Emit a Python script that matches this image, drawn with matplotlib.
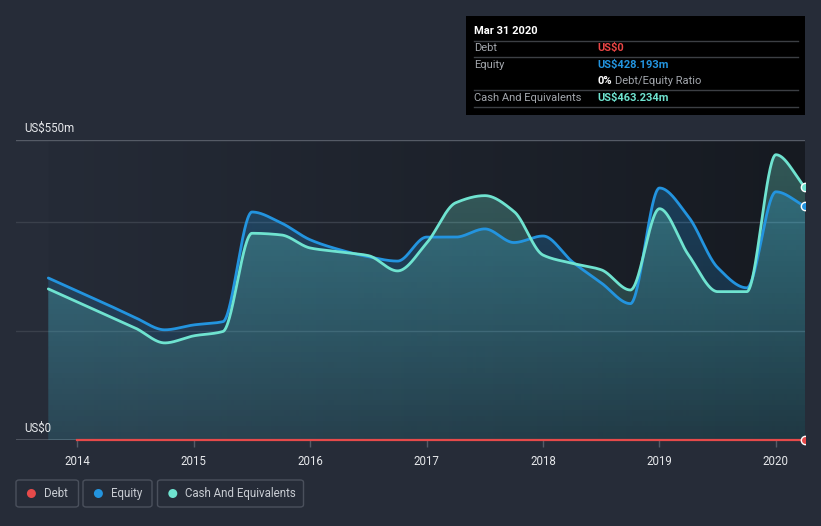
import numpy as np
import matplotlib
matplotlib.use("Agg")
import matplotlib.pyplot as plt
from matplotlib.patches import FancyBboxPatch, Ellipse, Rectangle, Polygon
from matplotlib.lines import Line2D

plt.rcParams['font.family'] = ['Roboto', 'DejaVu Sans']

# ---------------- data (US$ m, quarterly) ----------------
quarters = [2013.75 + 0.25 * i for i in range(27)]
equity = [297, 273, 249, 224, 202, 211, 217, 418, 398, 367, 349, 336, 328,
          372, 372, 387, 362, 374, 327, 288, 250, 462, 409, 316, 279, 455, 428.193]
cash = [277, 253, 229, 205, 178, 191, 199, 379, 376, 352, 345, 338, 310,
        361, 435, 448, 419, 339, 324, 312, 275, 424, 339, 272, 272, 523, 463.234]
debt_x = quarters[1:]
debt = [0] * len(debt_x)
year_ticks = [2014, 2015, 2016, 2017, 2018, 2019, 2020]
y_max = 550

W, H = 821, 526
BG = '#262c38'
BLUE = '#2394df'
TEAL = '#6fe3d0'
RED = '#e64a4a'

def pchip(x, y, xs):
    x = np.asarray(x, float); y = np.asarray(y, float)
    h = np.diff(x); d = np.diff(y) / h
    m = np.zeros_like(y)
    for k in range(1, len(y) - 1):
        if d[k - 1] * d[k] > 0:
            w1 = 2 * h[k] + h[k - 1]; w2 = h[k] + 2 * h[k - 1]
            m[k] = (w1 + w2) / (w1 / d[k - 1] + w2 / d[k])
    m[0] = d[0]; m[-1] = d[-1]
    idx = np.clip(np.searchsorted(x, xs) - 1, 0, len(x) - 2)
    t = (xs - x[idx]) / h[idx]
    h00 = 2 * t**3 - 3 * t**2 + 1; h10 = t**3 - 2 * t**2 + t
    h01 = -2 * t**3 + 3 * t**2; h11 = t**3 - t**2
    return h00 * y[idx] + h10 * h[idx] * m[idx] + h01 * y[idx + 1] + h11 * h[idx] * m[idx + 1]

fig = plt.figure(figsize=(W / 100, H / 100), dpi=100)
fig.patch.set_facecolor(BG)

def fx(px): return px / W
def fy(py): return 1 - py / H

x0p, x1p, y0p, y1p = 16, 805, 440, 140
ax = fig.add_axes([fx(x0p), fy(y0p), (x1p - x0p) / W, (y0p - y1p) / H])
xl = (2014 - (77.5 - 16) / 116.6, quarters[-1])
ax.set_xlim(*xl)
ax.set_ylim(0, y_max)
ax.set_facecolor(BG)
for s in ax.spines.values():
    s.set_visible(False)

# plot-area background gradient (from data start)
grad = np.linspace(0, 1, 256)[None, :]
c0 = np.array([37, 43, 55]) / 255; c1 = np.array([22, 26, 33]) / 255
img = c0[None, None, :] * (1 - grad[..., None]) + c1[None, None, :] * grad[..., None]
ax.imshow(img, extent=[quarters[0], quarters[-1], 0, y_max], aspect='auto', zorder=0)

# gridlines
for v in [200, 400]:
    ax.axhline(v, color='#3a404b', lw=1, zorder=1)
ax.axhline(y_max, color='#555b66', lw=1, zorder=1)
ax.axhline(0, color='#555b66', lw=1.2, zorder=1)

xs = np.linspace(quarters[0], quarters[-1], 1500)
ys_e = pchip(quarters, equity, xs)
ys_c = pchip(quarters, cash, xs)

def grad_fill(ys, color, z):
    rgb = np.array(matplotlib.colors.to_rgb(color))
    yy = np.linspace(y_max, 0, 300)
    alpha = 0.10 + 0.16 * yy / 400
    arr = np.zeros((300, 1, 4))
    arr[:, 0, :3] = rgb
    arr[:, 0, 3] = np.clip(alpha, 0, 1)
    im = ax.imshow(arr, extent=[quarters[0], quarters[-1], 0, y_max], aspect='auto',
                   zorder=z, interpolation='bilinear')
    verts = np.column_stack([np.r_[xs, xs[-1], xs[0]], np.r_[ys, 0, 0]])
    poly = Polygon(verts, closed=True, transform=ax.transData, facecolor='none', edgecolor='none')
    ax.add_patch(poly)
    im.set_clip_path(poly)

grad_fill(ys_e, BLUE, 2)
grad_fill(ys_c, TEAL, 3)

ax.plot(xs, ys_e, color=BLUE, lw=2.0, zorder=5, solid_capstyle='round')
ax.plot(xs, ys_c, color=TEAL, lw=2.0, zorder=6, solid_capstyle='round')

clip_rect = Rectangle((0, -0.05), 1, 1.1, transform=ax.transAxes, facecolor='none', edgecolor='none')
ax.add_patch(clip_rect)
dl, = ax.plot(debt_x, debt, color=RED, lw=1.6, zorder=7)
dl.set_clip_path(clip_rect)

ax.scatter([quarters[-1]], [equity[-1]], s=36, color=BLUE, edgecolor='white', lw=1, zorder=8)
ax.scatter([quarters[-1]], [cash[-1]], s=36, color=TEAL, edgecolor='white', lw=1, zorder=8)
dd = ax.scatter([debt_x[-1]], [debt[-1]], s=36, color=RED, edgecolor='white', lw=1, zorder=8)
dd.set_clip_path(clip_rect)

ax.set_yticks([])
ax.set_xticks(year_ticks)
ax.set_xticklabels([str(y) for y in year_ticks], color='#e6e8eb', fontsize=8.3)
ax.tick_params(axis='x', length=5, color='#555b66', width=1, pad=6)

fig.text(fx(24), fy(128), 'US$550m', color='#e6e8eb', fontsize=8.3, va='center', ha='left')
fig.text(fx(24), fy(428), 'US$0', color='#e6e8eb', fontsize=8.3, va='center', ha='left')

# tooltip box
fig.patches.append(Rectangle((fx(466), fy(115)), (805 - 466) / W, (115 - 16) / H,
                             transform=fig.transFigure, facecolor='#000000', edgecolor='none', zorder=10))
for ly in [40.7, 57.3, 90.3, 107.3]:
    fig.lines.append(Line2D([fx(474), fx(798)], [fy(ly), fy(ly)], transform=fig.transFigure,
                            color='#3c3f44', lw=1, zorder=11))
GREY = '#a3a7ad'
tk = dict(fontsize=8, va='center', ha='left', zorder=12)
fig.text(fx(474), fy(31), 'Mar 31 2020', color='white', fontweight='bold', **tk)
fig.text(fx(474), fy(48.3), 'Debt', color=GREY, **tk)
fig.text(fx(597), fy(48.3), 'US$0', color='#e84545', fontweight='bold', **tk)
fig.text(fx(474), fy(65), 'Equity', color=GREY, **tk)
fig.text(fx(597), fy(65), 'US$428.193m', color=BLUE, fontweight='bold', **tk)
fig.text(fx(597), fy(81), '0%', color='white', fontweight='bold', **tk)
fig.text(fx(615), fy(81), 'Debt/Equity Ratio', color=GREY, **tk)
fig.text(fx(474), fy(98.3), 'Cash And Equivalents', color=GREY, **tk)
fig.text(fx(597), fy(98.3), 'US$463.234m', color=TEAL, fontweight='bold', **tk)

# legend
legend_items = [('Debt', RED, 16, 78.5, 31.4, 44),
                ('Equity', BLUE, 83, 152, 98.4, 111),
                ('Cash And Equivalents', TEAL, 157.5, 303.5, 172.8, 185)]
for label, col, bx0, bx1, dx, tx in legend_items:
    fig.patches.append(FancyBboxPatch((fx(bx0), fy(507)), (bx1 - bx0) / W, (507 - 480) / H,
                                      boxstyle='round,pad=0,rounding_size=0.004',
                                      transform=fig.transFigure, facecolor='none',
                                      edgecolor='#4a505c', lw=1))
    fig.patches.append(Ellipse((fx(dx), fy(493.5)), 9 / W, 9 / H, transform=fig.transFigure,
                               facecolor=col, edgecolor='none'))
    fig.text(fx(tx), fy(493.5), label, color='#c9cdd3', fontsize=8.3, va='center', ha='left')

fig.savefig('out.png', dpi=100, facecolor=BG)
